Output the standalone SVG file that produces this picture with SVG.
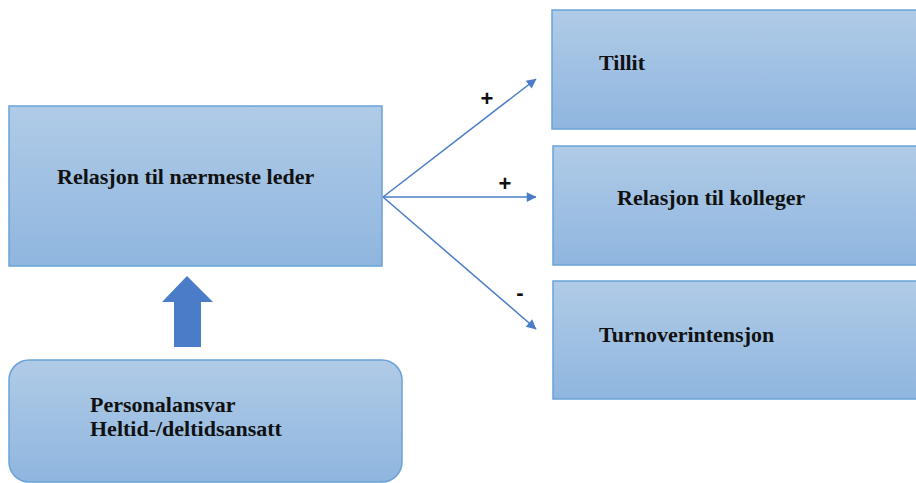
<svg xmlns="http://www.w3.org/2000/svg" width="916" height="483" viewBox="0 0 916 483">
<style>
.box{fill:url(#g);stroke:#6aa2d8;stroke-width:1.5}
.t{font-family:"Liberation Serif",serif;font-weight:bold;font-size:22px;fill:#111}
.s{font-family:"Liberation Sans",sans-serif;font-weight:bold;font-size:22px;fill:#111}
.c{stroke:#4a7cc8;stroke-width:1.5;fill:none;marker-end:url(#ah)}
</style>
<defs>
<linearGradient id="g" x1="0" y1="0" x2="0" y2="1">
<stop offset="0" stop-color="#b0cbe7"/>
<stop offset="1" stop-color="#8fb6df"/>
</linearGradient>
<marker id="ah" viewBox="0 0 10 10" refX="9" refY="5" markerWidth="7" markerHeight="7" markerUnits="userSpaceOnUse" orient="auto" overflow="visible">
<path d="M0,0 L10,5 L0,10 Z" fill="#4a7cc8" transform="scale(1.4) translate(-3,-1.4)"/>
</marker>
</defs>
<rect width="916" height="483" fill="#fff"/>
<g id="leder">
<rect class="box" x="9" y="106" width="373" height="160"/>
<text class="t" x="57" y="184">Relasjon til nærmeste leder</text>
</g>
<g id="tillit">
<rect class="box" x="552" y="10" width="366" height="119"/>
<text class="t" x="599" y="70">Tillit</text>
</g>
<g id="kolleger">
<rect class="box" x="553" y="146" width="365" height="119"/>
<text class="t" x="617" y="205">Relasjon til kolleger</text>
</g>
<g id="turnover">
<rect class="box" x="553" y="281" width="365" height="118"/>
<text class="t" x="599" y="342">Turnoverintensjon</text>
</g>
<g id="personal">
<rect class="box" x="9" y="360" width="393" height="122" rx="20" ry="20"/>
<text class="t" x="90" y="412">Personalansvar</text>
<text class="t" x="90" y="436">Heltid-/deltidsansatt</text>
</g>
<g id="connectors">
<path d="M174,347 L174,302 L162,302 L187,276 L213,302 L201,302 L201,347 Z" fill="#4a7cc8"/>
<path class="c" d="M383,197 L536,79"/>
<path class="c" d="M383,197 L536,197"/>
<path class="c" d="M383,197 L536,329"/>
<text class="s" x="487" y="106" text-anchor="middle">+</text>
<text class="s" x="505" y="191" text-anchor="middle">+</text>
<text class="s" x="520" y="300" text-anchor="middle">-</text>
</g>
</svg>
